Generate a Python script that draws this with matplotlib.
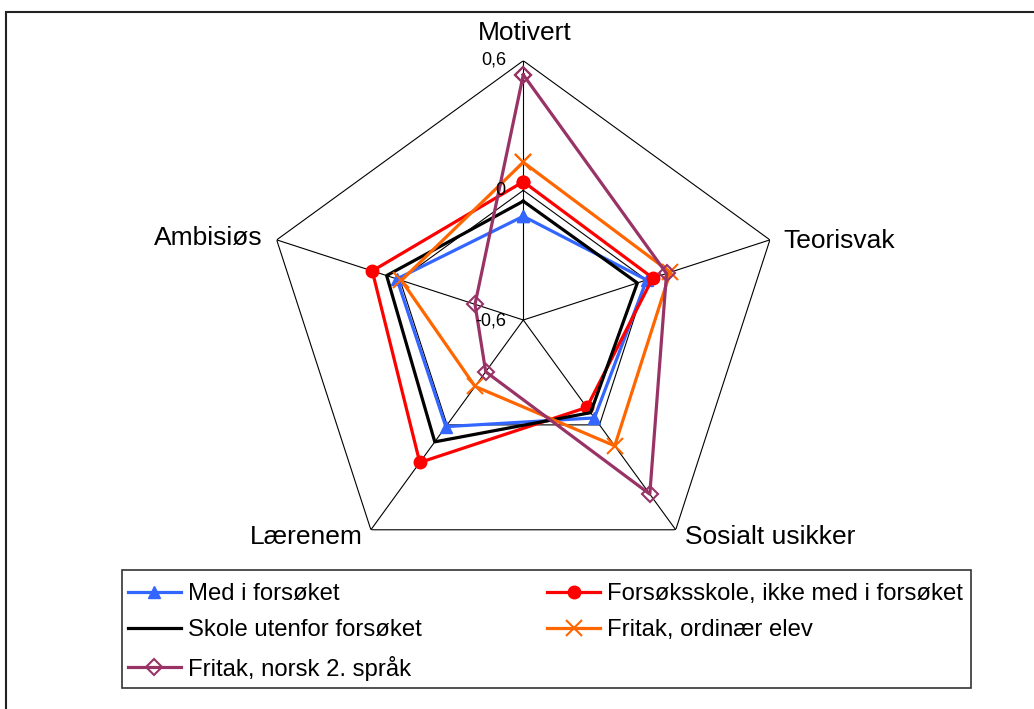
import numpy as np
import matplotlib
matplotlib.use('Agg')
import matplotlib.pyplot as plt
from matplotlib.patches import Rectangle

plt.rcParams['font.family'] = ['Liberation Sans', 'DejaVu Sans']

# ---- data ----
categories = ['Motivert', 'Teorisvak', 'Sosialt usikker', 'Lærenem', 'Ambisiøs']
series_names = ['Med i forsøket', 'Forsøksskole, ikke med i forsøket',
                'Skole utenfor forsøket', 'Fritak, ordinær elev',
                'Fritak, norsk 2. språk']
med_i_forsoket = [-0.12, 0.00, -0.04, 0.01, 0.015]
forsoksskole = [0.04, 0.03, -0.10, 0.215, 0.135]
skole_utenfor = [-0.05, -0.045, -0.07, 0.097, 0.065]
fritak_ordinaer = [0.13, 0.115, 0.12, -0.22, -0.007]
fritak_norsk2 = [0.535, 0.097, 0.396, -0.304, -0.365]
r_ticks = [-0.6, 0.0, 0.6]
r_tick_labels = ['-0,6', '0', '0,6']

series_values = [med_i_forsoket, forsoksskole, skole_utenfor, fritak_ordinaer, fritak_norsk2]
styles = [
    dict(color='#3366FF', marker='^', ms=9, mfc='#3366FF', mec='#3366FF'),
    dict(color='#FF0000', marker='o', ms=9, mfc='#FF0000', mec='#FF0000'),
    dict(color='#000000', marker=None),
    dict(color='#FF6600', marker='x', ms=11, mew=1.5),
    dict(color='#993366', marker='D', ms=8, mfc='none', mec='#993366', mew=1.5),
]

W, H = 1034, 709
fig = plt.figure(figsize=(W / 100, H / 100), dpi=100)
cx, cy, R = 523.3, 320.0, 259.3
ax = fig.add_axes([(cx - R) / W, 1 - (cy + R) / H, 2 * R / W, 2 * R / H], projection='polar')
ax.set_theta_zero_location('N')
ax.set_theta_direction(-1)
ax.set_ylim(r_ticks[0], r_ticks[-1])
ax.grid(False)
ax.set_xticks([])
ax.set_yticks([])
ax.spines['polar'].set_visible(False)
ax.patch.set_visible(False)

n = len(categories)
theta = np.arange(n) * 2 * np.pi / n
theta_c = np.append(theta, theta[0])

# grid pentagons and spokes
for g in r_ticks[1:]:
    ax.plot(theta_c, [g] * (n + 1), color='black', lw=0.8, zorder=1)
for t in theta:
    ax.plot([t, t], [r_ticks[0], r_ticks[-1]], color='black', lw=0.8, zorder=1)

handles = []
for name, vals, st in zip(series_names, series_values, styles):
    v = list(vals) + [vals[0]]
    h, = ax.plot(theta_c, v, lw=2.3, label=name, zorder=3, clip_on=False, **st)
    handles.append(h)

# radial tick labels
tick_offsets = {-0.6: (-16.6, -5.7), 0.0: (-18, -4.3), 0.6: (-17.3, -4.3)}
for rv, lab in zip(r_ticks, r_tick_labels):
    dx, dy = tick_offsets[rv]
    ax.annotate(lab, xy=(0, rv), xytext=(dx, dy), textcoords='offset pixels',
                ha='right', va='baseline', fontsize=13, annotation_clip=False)

# category labels
cat_pos = [
    (1, 21, 'center'),
    (13, -8, 'left'),
    (9, -14, 'left'),
    (-8, -14, 'right'),
    (-14, -5, 'right'),
]
for t, cat, (dx, dy, ha) in zip(theta, categories, cat_pos):
    ax.annotate(cat, xy=(t, r_ticks[-1]), xytext=(dx, dy), textcoords='offset pixels',
                ha=ha, va='baseline', fontsize=19, annotation_clip=False)

# legend box frame
fig.patches.append(Rectangle((122 / W, 1 - 688 / H), (971 - 122) / W, (688 - 570) / H,
                             transform=fig.transFigure, fill=False,
                             edgecolor='#333333', lw=1.2, zorder=5))

# legend entries (column-major fill -> reorder so rows read like reference)
order = [0, 2, 4, 1, 3]
leg = fig.legend([handles[i] for i in order], [series_names[i] for i in order],
                 ncol=2, loc='upper left', mode='expand',
                 bbox_to_anchor=(128 / W, 1 - 686 / H, (963 - 128) / W, (686 - 583) / H),
                 borderaxespad=0, fontsize=17.2, frameon=False,
                 labelspacing=0.6, borderpad=0.0,
                 handlelength=2.2, handletextpad=0.3, columnspacing=1.0)

# outer chart frame (left and top visible)
fig.patches.append(Rectangle((6 / W, -0.1), 1.2, (H - 12) / H + 0.1, transform=fig.transFigure,
                             fill=False, edgecolor='#222222', lw=1.5))

fig.savefig('out.png', dpi=100)
